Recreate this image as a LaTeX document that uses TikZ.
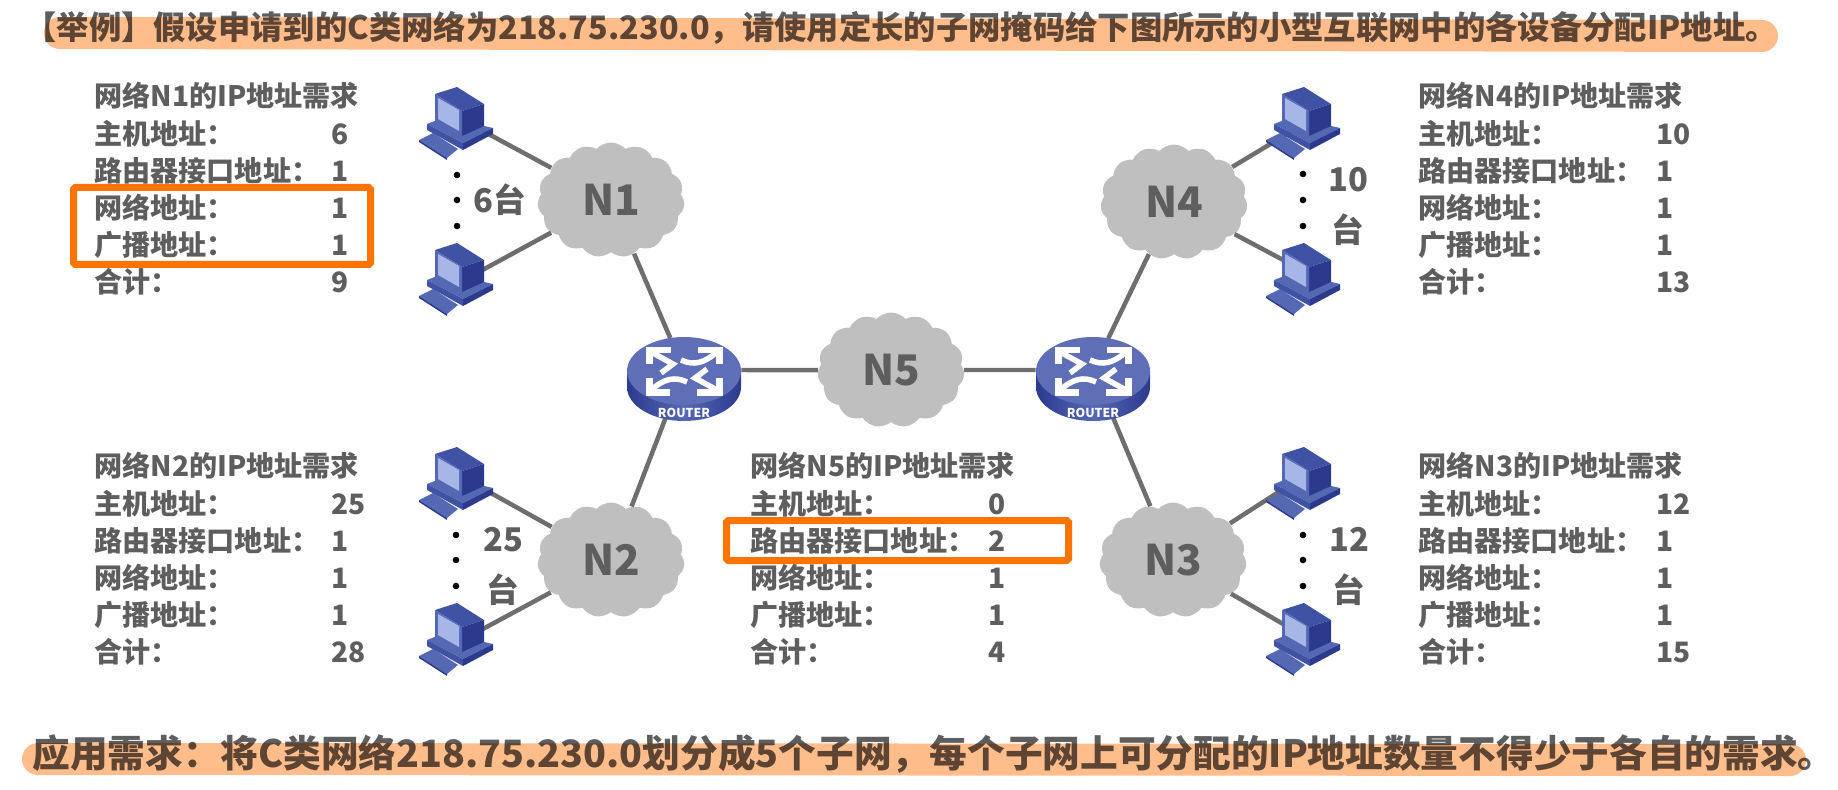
\documentclass[tikz,border=0pt]{standalone}
\usepackage{fontspec}
\setmainfont{Noto Sans CJK SC}
\usetikzlibrary{shapes.symbols,shapes.geometric}
\definecolor{txtgray}{HTML}{5E5E5E}
\definecolor{cloudgray}{HTML}{BFBFBF}
\definecolor{linegray}{HTML}{6E6E6E}
\definecolor{hibox}{HTML}{FF7300}
\definecolor{marker}{HTML}{FFBD8C}
\definecolor{pcface}{HTML}{5568B4}
\definecolor{pcdark}{HTML}{2C3A8E}
\definecolor{pcmid}{HTML}{4052A4}
\definecolor{pcscreen}{HTML}{A6B6E6}
\def\fwcolon{\char"FF1A\relax}
\def\fwcomma{\char"FF0C\relax}
\tikzset{
	reqtext/.style={anchor=west, inner sep=0pt, text=txtgray, text height=14pt, text depth=3pt, font=\fontsize{16}{16}\selectfont\bfseries},
	netcloud/.style={cloud, cloud puffs=15, cloud puff arc=95, aspect=1.27, fill=cloudgray, inner sep=0pt, minimum width=2.94cm, minimum height=2.3cm, text=txtgray, font=\fontsize{24}{24}\selectfont\bfseries},
	hostcount/.style={text=txtgray, inner sep=0pt, align=center, font=\fontsize{18.6}{29}\selectfont\bfseries},
	toptextstyle/.style={anchor=west, inner sep=0pt, text=txtgray, font=\fontsize{18.4}{18.4}\selectfont\bfseries},
	bottextstyle/.style={anchor=west, inner sep=0pt, text=txtgray, font=\fontsize{21.45}{21.45}\selectfont\bfseries},
	link/.style={draw=linegray, line width=0.09cm},
	markbox/.style={draw=hibox, line width=0.14cm, rounded corners=1pt},
	markline/.style={draw=marker, line width=0.64cm, line cap=round, blend mode=multiply},
	rtrport/.style={ellipse, inner sep=0pt, minimum width=2.28cm, minimum height=1.3cm},
	pcicon/.pic={
		\fill[pcface] (-36,18) -- (-22,11) -- (3,27) -- (-8,36) -- cycle;
		\fill[pcdark] (-36,18) -- (-8,36) -- (-8,38) -- (-36,20) -- cycle;
		\fill[pcface] (-28,2) -- (-10,-5) -- (38,6) -- (8,21) -- cycle;
		\fill[pcmid] (-28,2) -- (8,21) -- (8,28) -- (-28,8) -- cycle;
		\fill[pcdark] (8,21) -- (38,6) -- (38,12) -- (8,28) -- cycle;
		\fill[pcmid] (-20,-28) -- (2,-35) -- (29,-18) -- (7,-11) -- cycle;
		\fill[pcdark] (7,-11) -- (29,-18) -- (29,4) -- (7,14) -- cycle;
		\fill[pcface] (-20,-28) -- (7,-11) -- (7,14) -- (-20,-1) -- cycle;
		\fill[pcscreen] (-17,-24) -- (4,-12) -- (4,9) -- (-17,-3) -- cycle;
	},
	rtrarrows/.pic={
		\draw[white, line width=0.14cm] (-13,-21) -- (-35,-21) -- (-35,-7);
		\draw[white, line width=0.11cm] (-33,-19) -- (-11,-7) -- (-23,2);
		\draw[white, line width=0.14cm] (14,-21) -- (35,-21) -- (35,-7);
		\draw[white, line width=0.11cm] (33,-19) .. controls (20,-8) and (10,-5) .. (-3,-11);
	},
	rtricon/.pic={
		\shade[left color=pcdark, right color=pcdark, middle color=pcface] (-57,0) -- (-57,16) arc (180:0:57 and 34) -- (57,0) -- cycle;
		\fill[pcface!95!white] (0,0) ellipse (57 and 34);
		\pic[rotate=0] {rtrarrows};
		\pic[rotate=180] {rtrarrows};
		\node[text=white, inner sep=0pt, font=\fontsize{7}{7}\selectfont\bfseries] (-lbl) at (0,42) {ROUTER};
	},
}
\def\netreq[#1](#2,#3,#4)(#5:#6:#7:#8){
	\node[reqtext] (#1head) at (#2,#3) {网络#5的IP地址需求};
	\node[reqtext] (#1host) at (#2,#3+37.5) {主机地址\fwcolon};
	\node[reqtext] (#1hostn) at (#4,#3+37.5) {#6};
	\node[reqtext] (#1if) at (#2,#3+75) {路由器接口地址\fwcolon};
	\node[reqtext] (#1ifn) at (#4,#3+75) {#7};
	\node[reqtext] (#1net) at (#2,#3+112) {网络地址\fwcolon};
	\node[reqtext] (#1netn) at (#4,#3+112) {1};
	\node[reqtext] (#1bc) at (#2,#3+149) {广播地址\fwcolon};
	\node[reqtext] (#1bcn) at (#4,#3+149) {1};
	\node[reqtext] (#1sum) at (#2,#3+186) {合计\fwcolon};
	\node[reqtext] (#1sumn) at (#4,#3+186) {#8};
}

\begin{document}
\begin{tikzpicture}[x=0.02cm, y=-0.02cm]
		%%%%% START %%%%%
		\useasboundingbox (0,0) rectangle (1838,790);
		
		\node[toptextstyle] (toptext) at (24,28) {【举例】假设申请到的C类网络为218.75.230.0\fwcomma 请使用定长的子网掩码给下图所示的小型互联网中的各设备分配IP地址。};
		\draw[markline] (60,33) -- (1762,36);
		
		\netreq[reqA](94,97,331)(N1:6:1:9)
		\netreq[reqB](94,467,331)(N2:25:1:28)
		\netreq[reqC](750,467,988)(N5:0:2:4)
		\netreq[reqD](1418,97,1656)(N4:10:1:13)
		\netreq[reqE](1418,467,1656)(N3:12:1:15)
		
		\draw[markbox] (73.5,187.5) rectangle (370.5,264.5);
		\draw[markbox] (726.5,520.5) rectangle (1068.5,560.5);
		
		\node[netcloud] (N1) at (611,200) {N1};
		\node[netcloud] (N2) at (611,560) {N2};
		\node[netcloud] (N3) at (1173,560) {N3};
		\node[netcloud] (N4) at (1174,202) {N4};
		\node[netcloud] (N5) at (891,370) {N5};
		\node[rtrport] (rtrL) at (684,370) {};
		\node[rtrport] (rtrR) at (1093,370) {};
		
		\coordinate (pcN1a) at (455,116);
		\coordinate (pcN1b) at (455,285);
		\coordinate (pcN2a) at (455,473);
		\coordinate (pcN2b) at (455,644);
		\coordinate (pcN4a) at (1302,125);
		\coordinate (pcN4b) at (1302,270);
		\coordinate (pcN3a) at (1302,477);
		\coordinate (pcN3b) at (1302,635);
		
		\draw[link] (pcN1a) -- (N1);
		\draw[link] (pcN1b) -- (N1);
		\draw[link] (pcN2a) -- (N2);
		\draw[link] (pcN2b) -- (N2);
		\draw[link] (pcN4a) -- (N4);
		\draw[link] (pcN4b) -- (N4);
		\draw[link] (pcN3a) -- (N3);
		\draw[link] (pcN3b) -- (N3);
		\draw[link] (N1) -- (rtrL);
		\draw[link] (N2) -- (rtrL);
		\draw[link] (rtrL) -- (N5);
		\draw[link] (N5) -- (rtrR);
		\draw[link] (N4) -- (rtrR);
		\draw[link] (N3) -- (rtrR);
		
		\pic at (455,122) {pcicon};
		\pic at (455,278) {pcicon};
		\pic at (455,482) {pcicon};
		\pic at (455,638) {pcicon};
		\pic at (1302,122) {pcicon};
		\pic at (1302,278) {pcicon};
		\pic at (1302,482) {pcicon};
		\pic at (1302,638) {pcicon};
		\pic (iconL) at (684,371) {rtricon};
		\pic (iconR) at (1093,371) {rtricon};
		
		\fill[black] (457,175) circle (3.3);
		\fill[black] (457,200) circle (3.3);
		\fill[black] (457,226) circle (3.3);
		\fill[black] (456,535) circle (3.3);
		\fill[black] (456,560) circle (3.3);
		\fill[black] (456,586) circle (3.3);
		\fill[black] (1303,174) circle (3.3);
		\fill[black] (1303,200) circle (3.3);
		\fill[black] (1303,226) circle (3.3);
		\fill[black] (1303,535) circle (3.3);
		\fill[black] (1303,560) circle (3.3);
		\fill[black] (1303,586) circle (3.3);
		
		\node[hostcount] (cntN1) at (500,200) {6台};
		\node[hostcount] (cntN2) at (503,566) {25\\台};
		\node[hostcount] (cntN3) at (1349,566) {12\\台};
		\node[hostcount] (cntN4) at (1348,206) {10\\台};
		
		\node[bottextstyle] (bottext) at (32,754) {应用需求\fwcolon 将C类网络218.75.230.0划分成5个子网\fwcomma 每个子网上可分配的IP地址数量不得少于各自的需求。};
		\draw[markline] (38,759) -- (1790,760);
		%%%%% END %%%%%
	\end{tikzpicture}
\end{document}
